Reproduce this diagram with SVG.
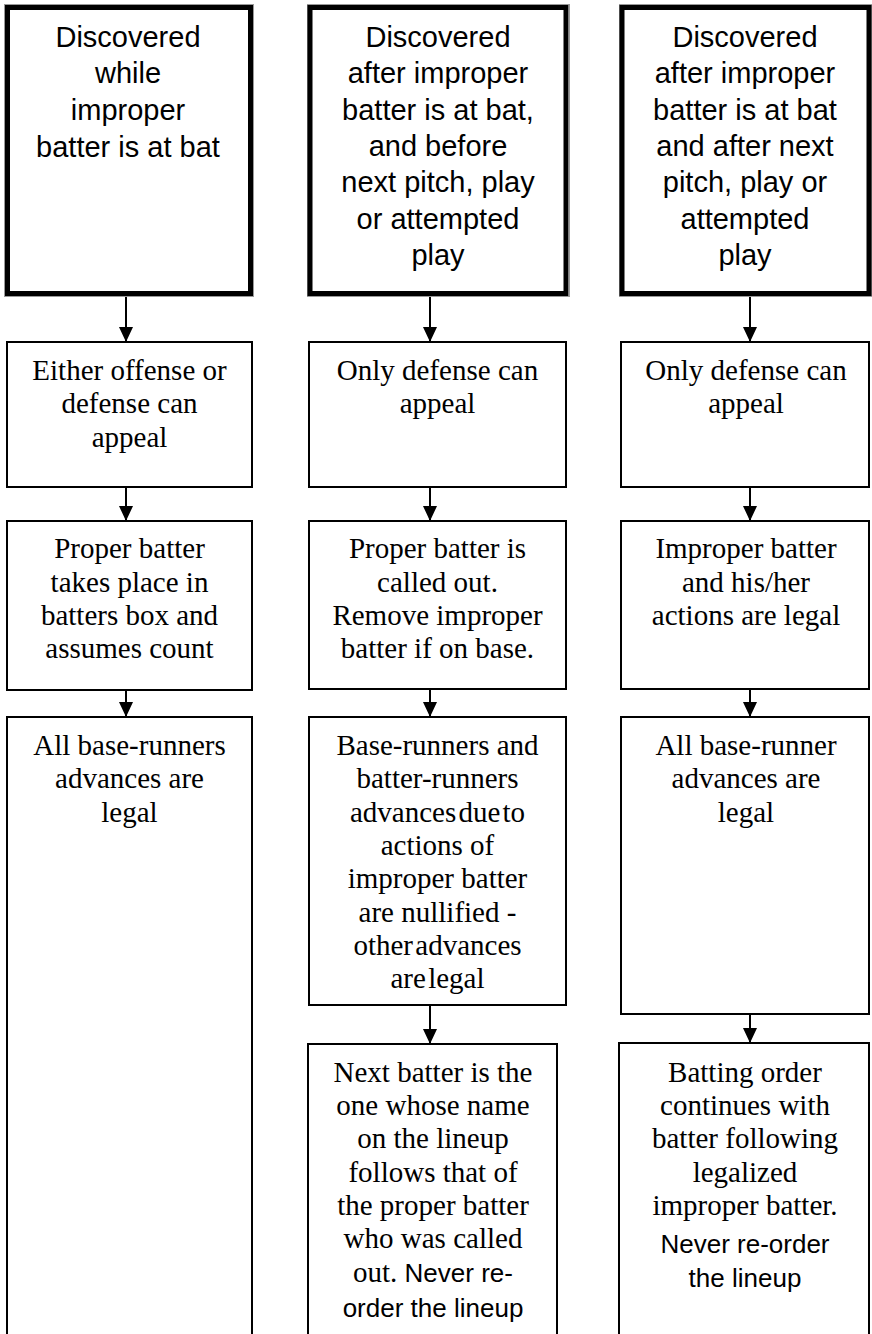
<svg xmlns="http://www.w3.org/2000/svg" width="872" height="1334" viewBox="0 0 872 1334">
<style>
.top{fill:#fff;stroke:#000;stroke-width:5}
.topo{fill:none;stroke:#999;stroke-width:1}
.box{fill:#fff;stroke:#000;stroke-width:2}
.sans{font-family:"Liberation Sans",Arial,sans-serif;font-size:29px;fill:#000;text-anchor:middle}
.serif{font-family:"Liberation Serif","Times New Roman",serif;font-size:29px;fill:#000;text-anchor:middle}
.sans2{font-family:"Liberation Sans",Arial,sans-serif;font-size:26px}
.conn{stroke:#000;stroke-width:2;fill:none;marker-end:url(#ah)}
</style>
<defs>
<marker id="ah" viewBox="0 0 15 14" refX="15" refY="7" markerWidth="15" markerHeight="14" markerUnits="userSpaceOnUse" orient="auto">
<path d="M0,0 L15,7 L0,14 z" fill="#000"/>
</marker>
</defs>
<rect width="872" height="1334" fill="#fff"/>

<g id="connectors">
<line class="conn" x1="126" y1="296" x2="126" y2="342"/>
<line class="conn" x1="430" y1="296" x2="430" y2="342"/>
<line class="conn" x1="750" y1="296" x2="750" y2="342"/>
<line class="conn" x1="126" y1="487" x2="126" y2="521"/>
<line class="conn" x1="430" y1="487" x2="430" y2="521"/>
<line class="conn" x1="750" y1="487" x2="750" y2="521"/>
<line class="conn" x1="126" y1="690" x2="126" y2="717"/>
<line class="conn" x1="430" y1="689" x2="430" y2="717"/>
<line class="conn" x1="750" y1="689" x2="750" y2="717"/>
<line class="conn" x1="430" y1="1005" x2="430" y2="1044"/>
<line class="conn" x1="750" y1="1014" x2="750" y2="1043"/>
</g>

<g id="n1a">
<rect class="topo" x="4.5" y="4.5" width="249" height="292"/>
<rect class="top" x="7.5" y="7.5" width="243" height="286"/>
<text class="sans" x="128" y="47">Discovered</text>
<text class="sans" x="128" y="83">while</text>
<text class="sans" x="128" y="120">improper</text>
<text class="sans" x="128" y="157">batter is at bat</text>
</g>
<g id="n2a">
<rect class="topo" x="307.5" y="4.5" width="262" height="292"/>
<rect class="top" x="310" y="7.5" width="256" height="286"/>
<text class="sans" x="438" y="47">Discovered</text>
<text class="sans" x="438" y="83">after improper</text>
<text class="sans" x="438" y="120">batter is at bat,</text>
<text class="sans" x="438" y="156">and before</text>
<text class="sans" x="438" y="192">next pitch, play</text>
<text class="sans" x="438" y="229">or attempted</text>
<text class="sans" x="438" y="265">play</text>
</g>
<g id="n3a">
<rect class="topo" x="619.5" y="4.5" width="252" height="292"/>
<rect class="top" x="622" y="7.5" width="247" height="286"/>
<text class="sans" x="745" y="47">Discovered</text>
<text class="sans" x="745" y="83">after improper</text>
<text class="sans" x="745" y="120">batter is at bat</text>
<text class="sans" x="745" y="156">and after next</text>
<text class="sans" x="745" y="192">pitch, play or</text>
<text class="sans" x="745" y="229">attempted</text>
<text class="sans" x="745" y="265">play</text>
</g>

<g id="n1b">
<rect class="box" x="7" y="342" width="245" height="145"/>
<text class="serif" x="129.5" y="380">Either offense or</text>
<text class="serif" x="129.5" y="413">defense can</text>
<text class="serif" x="129.5" y="447">appeal</text>
</g>
<g id="n2b">
<rect class="box" x="309" y="342" width="257" height="145"/>
<text class="serif" x="437.5" y="380">Only defense can</text>
<text class="serif" x="437.5" y="413">appeal</text>
</g>
<g id="n3b">
<rect class="box" x="621" y="342" width="248" height="145"/>
<text class="serif" x="746" y="380">Only defense can</text>
<text class="serif" x="746" y="413">appeal</text>
</g>

<g id="n1c">
<rect class="box" x="7" y="521" width="245" height="169"/>
<text class="serif" x="129.5" y="558">Proper batter</text>
<text class="serif" x="129.5" y="592">takes place in</text>
<text class="serif" x="129.5" y="625">batters box and</text>
<text class="serif" x="129.5" y="658">assumes count</text>
</g>
<g id="n2c">
<rect class="box" x="309" y="521" width="257" height="168"/>
<text class="serif" x="437.5" y="558">Proper batter is</text>
<text class="serif" x="437.5" y="592">called out.</text>
<text class="serif" x="437.5" y="625">Remove improper</text>
<text class="serif" x="437.5" y="658">batter if on base.</text>
</g>
<g id="n3c">
<rect class="box" x="621" y="521" width="248" height="168"/>
<text class="serif" x="746" y="558">Improper batter</text>
<text class="serif" x="746" y="592">and his/her</text>
<text class="serif" x="746" y="625">actions are legal</text>
</g>

<g id="n1d">
<rect class="box" x="7" y="717" width="245" height="640"/>
<text class="serif" x="129.5" y="755">All base-runners</text>
<text class="serif" x="129.5" y="788">advances are</text>
<text class="serif" x="129.5" y="822">legal</text>
</g>
<g id="n2d">
<rect class="box" x="309" y="717" width="257" height="288"/>
<text class="serif" x="437.5" y="755">Base-runners and</text>
<text class="serif" x="437.5" y="788">batter-runners</text>
<text class="serif" x="437.5" y="822" word-spacing="-5">advances due to</text>
<text class="serif" x="437.5" y="855">actions of</text>
<text class="serif" x="437.5" y="888">improper batter</text>
<text class="serif" x="437.5" y="922">are nullified -</text>
<text class="serif" x="437.5" y="955" word-spacing="-5">other advances</text>
<text class="serif" x="437.5" y="988" word-spacing="-5">are legal</text>
</g>
<g id="n3d">
<rect class="box" x="621" y="717" width="248" height="297"/>
<text class="serif" x="746" y="755">All base-runner</text>
<text class="serif" x="746" y="788">advances are</text>
<text class="serif" x="746" y="822">legal</text>
</g>

<g id="n2e">
<rect class="box" x="308" y="1044" width="249" height="320"/>
<text class="serif" x="433" y="1082">Next batter is the</text>
<text class="serif" x="433" y="1115">one whose name</text>
<text class="serif" x="433" y="1148">on the lineup</text>
<text class="serif" x="433" y="1182">follows that of</text>
<text class="serif" x="433" y="1215">the proper batter</text>
<text class="serif" x="433" y="1248">who was called</text>
<text class="serif" x="433" y="1282">out.<tspan class="sans2"> Never re-</tspan></text>
<text class="sans" x="433" y="1317" style="font-size:26px">order the lineup</text>
</g>
<g id="n3e">
<rect class="box" x="619" y="1043" width="250" height="320"/>
<text class="serif" x="745" y="1082">Batting order</text>
<text class="serif" x="745" y="1115">continues with</text>
<text class="serif" x="745" y="1148">batter following</text>
<text class="serif" x="745" y="1182">legalized</text>
<text class="serif" x="745" y="1215">improper batter.</text>
<text class="sans" x="745" y="1253" style="font-size:26px">Never re-order</text>
<text class="sans" x="745" y="1287" style="font-size:26px">the lineup</text>
</g>
</svg>
